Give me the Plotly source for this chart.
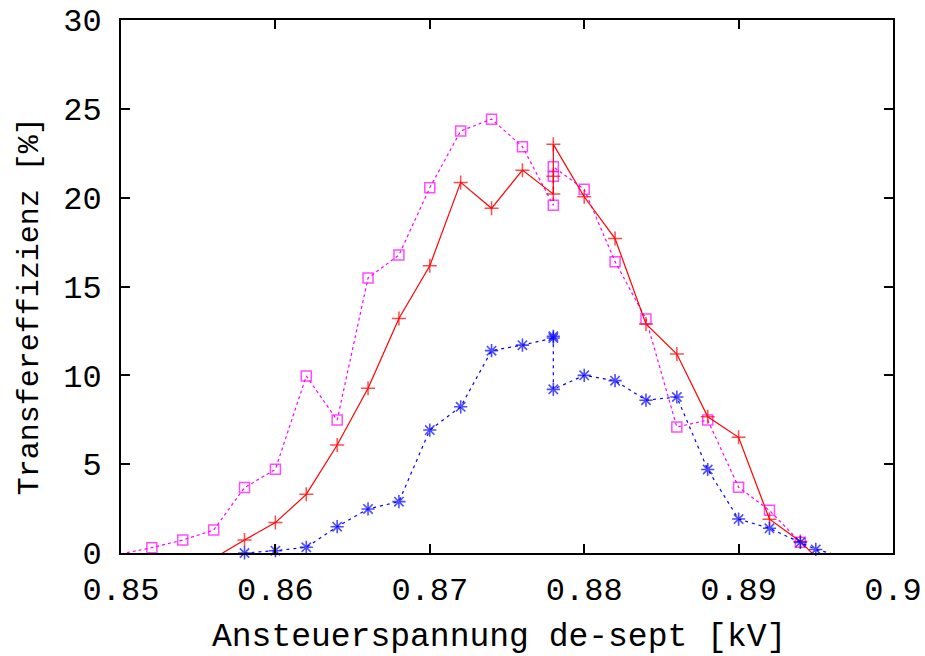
import plotly.graph_objects as go

# ---- data ----
red_x = [0.856, 0.858, 0.860, 0.862, 0.864, 0.866, 0.868, 0.870, 0.872, 0.874, 0.876,
         0.878, 0.878, 0.878, 0.880, 0.882, 0.884, 0.886, 0.888, 0.890, 0.892, 0.894, 0.896]
red_y = [-0.3, 0.73, 1.71, 3.3, 6.08, 9.27, 13.2, 16.17, 20.86, 19.4, 21.55,
         20.2, 21.2, 23.0, 20.05, 17.7, 12.89, 11.2, 7.67, 6.51, 1.9, 0.65, -1.1]

blue_x = [0.858, 0.860, 0.862, 0.864, 0.866, 0.868, 0.870, 0.872, 0.874, 0.876,
          0.878, 0.878, 0.878, 0.880, 0.882, 0.884, 0.886, 0.888, 0.890, 0.892, 0.894, 0.895, 0.896]
blue_y = [0.0, 0.13, 0.32, 1.48, 2.48, 2.89, 6.92, 8.23, 11.39, 11.7,
          12.1, 12.2, 9.21, 10.0, 9.7, 8.6, 8.78, 4.7, 1.91, 1.39, 0.6, 0.2, -0.03]

mag_x = [0.850, 0.852, 0.854, 0.856, 0.858, 0.860, 0.862, 0.864, 0.866, 0.868, 0.870,
         0.872, 0.874, 0.876, 0.878, 0.878, 0.878, 0.880, 0.882, 0.884, 0.886, 0.888,
         0.890, 0.892, 0.894]
mag_y = [-0.05, 0.3, 0.73, 1.29, 3.68, 4.71, 9.96, 7.48, 15.48, 16.77, 20.56,
         23.75, 24.42, 22.87, 19.57, 21.2, 21.74, 20.47, 16.4, 13.17, 7.09, 7.48,
         3.7, 2.4, 0.6]

x_ticks = [0.85, 0.86, 0.87, 0.88, 0.89, 0.9]
x_ticktext = ["0.85", "0.86", "0.87", "0.88", "0.89", "0.9"]
y_ticks = [0, 5, 10, 15, 20, 25, 30]
y_ticktext = ["0", "5", "10", "15", "20", "25", "30"]

x_title = "Ansteuerspannung de-sept [kV]"
y_title = "Transfereffizienz [%]"

FONT = "Liberation Mono, Courier New, monospace"


def sizes(ys, s):
    # points below the plotted range (y < 0) are only reached by the line
    return [s if v >= 0 else 0 for v in ys]


fig = go.Figure()

fig.add_trace(go.Scatter(
    x=mag_x, y=mag_y, mode="lines+markers", cliponaxis=False,
    line=dict(color="#ff00ff", width=1.2, dash="dot"),
    marker=dict(symbol="square-open", size=sizes(mag_y, 10), color="#ff00ff",
                line=dict(width=1.5, color="#ff00ff")),
    showlegend=False,
))
fig.add_trace(go.Scatter(
    x=red_x, y=red_y, mode="lines+markers", cliponaxis=False,
    line=dict(color="#ff0000", width=1.2),
    marker=dict(symbol="cross-thin", size=sizes(red_y, 10), color="#ff0000",
                line=dict(width=1.5, color="#ff0000")),
    showlegend=False,
))
fig.add_trace(go.Scatter(
    x=blue_x, y=blue_y, mode="lines+markers", cliponaxis=False,
    line=dict(color="#0000ff", width=1.2, dash="3px,4px"),
    marker=dict(symbol="asterisk-open", size=sizes(blue_y, 11), color="#0000ff",
                line=dict(width=1.6, color="#0000ff")),
    showlegend=False,
))

fig.update_layout(
    width=925, height=656,
    margin=dict(l=121, r=32, t=20, b=103, autoexpand=False),
    paper_bgcolor="white", plot_bgcolor="white",
    font=dict(family=FONT, size=32, color="black"),
    annotations=[
        dict(text=x_title, xref="paper", yref="paper", x=0.49, y=-0.1576,
             xanchor="center", yanchor="middle", showarrow=False,
             font=dict(family=FONT, size=33, color="black")),
        dict(text=y_title, xref="paper", yref="paper", x=-0.1179, y=0.463,
             xanchor="center", yanchor="middle", showarrow=False, textangle=-90,
             font=dict(family=FONT, size=30, color="black")),
    ],
)
fig.update_xaxes(
    range=[0.85, 0.9], tickvals=x_ticks, ticktext=x_ticktext,
    showgrid=False, zeroline=False, automargin=False,
    showline=True, linecolor="black", linewidth=2, mirror="ticks",
    ticks="inside", ticklen=9, tickwidth=1.5, tickcolor="black",
    ticklabelstandoff=7, ticklabeloverflow="allow",
    tickfont=dict(family=FONT, size=32, color="black"),
)
fig.update_yaxes(
    range=[0, 30], tickvals=y_ticks, ticktext=y_ticktext,
    showgrid=False, zeroline=False, automargin=False,
    showline=True, linecolor="black", linewidth=2, mirror="ticks",
    ticks="inside", ticklen=9, tickwidth=1.5, tickcolor="black",
    ticklabelstandoff=11, ticklabeloverflow="allow",
    tickfont=dict(family=FONT, size=32, color="black"),
)

fig.write_html(
    "out.html",
    config={"displayModeBar": False},
    post_script="document.body.style.margin='0';document.body.style.overflow='hidden';",
)
